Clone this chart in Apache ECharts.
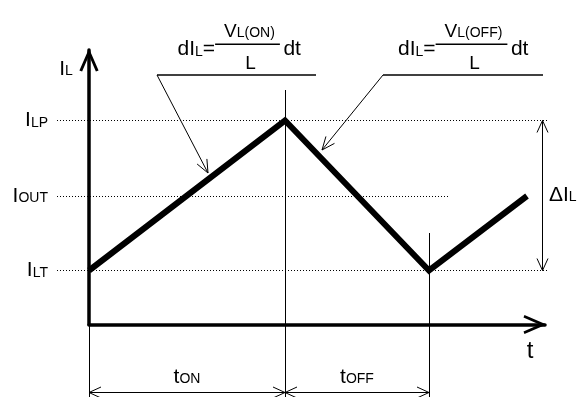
<!DOCTYPE html>
<html>
<head>
<meta charset="utf-8">
<script src="https://cdn.jsdelivr.net/npm/echarts@6/dist/echarts.min.js"></script>
<style>
  html, body { margin: 0; padding: 0; background: #fff; }
  #chart { width: 586px; height: 397px; }
</style>
</head>
<body>
<div id="chart"></div>
<script>
// inductor current waveform (t and I in arbitrary units)
var waveT = [0, 9.8, 17.0, 21.9];
var waveI = [5.4, 20.4, 5.4, 12.85];

// current levels marked on the I axis
var levelLabels = ['I_{LT}', 'I_{OUT}', 'I_{LP}'];
var levelValues = [5.4, 12.85, 20.4];
var levelLineFrom = [-1.6, -1.6, -1.6];
var levelLineTo = [23.0, 18.05, 23.0];

// switching instants (t = 0, end of tON, end of tOFF)
var edgeT = [0, 9.8, 17.0];
var edgeTop = [0, 23.45, 9.15];
var guideBottom = -7.25;
var dimY = -6.75;           // level of the tON / tOFF dimension arrows
var deltaX = 22.65;         // position of the delta IL dimension arrow

// formula call-outs: shelf from..to at shelfY, leader from shelf start to tip
var shelfFrom = [3.4, 14.7];
var shelfTo = [11.35, 22.7];
var shelfY = 24.95;
var tipT = [5.95, 11.65];
var tipI = [15.15, 17.45];
var formulaX = [7.925, 19.125];
var formulaY = 28.03;
var formulaLhs = ['dI_{L}=', 'dI_{L}='];
var formulaNum = ['V_{L(ON)}', 'V_{L(OFF)}'];
var formulaDen = ['L', 'L'];
var formulaRhs = ['dt', 'dt'];

// other labels
var labelTexts = ['I_{L}', 't', 't_{ON}', 't_{OFF}', '\u0394I_{L}'];
var labelX = [-1.15, 22.05, (edgeT[0] + edgeT[1]) / 2, (edgeT[1] + edgeT[2]) / 2, 23.0];
var labelY = [25.55, -2.65, -5.25, -5.25, 12.95];

var FONT = '"Liberation Sans", Arial, Helvetica, sans-serif';
var INK = '#000';
var ARROW = 'path://M0,0 L10,23 L7.2,24 L0,7.4 L-7.2,24 L-10,23 Z';
var LABEL_ALIGN = ['center', 'center', 'center', 'center', 'left'];
var LABEL_SIZE = [21, 24, 21, 21, 21];

function markup(str) {
    var out = '', re = /_\{([^}]*)\}/g, last = 0, mm;
    while ((mm = re.exec(str))) {
        if (mm.index > last) out += '{m|' + str.slice(last, mm.index) + '}';
        out += '{s|' + mm[1] + '}';
        last = re.lastIndex;
    }
    if (last < str.length) out += '{m|' + str.slice(last) + '}';
    return out;
}
function richStyle(mainSize, subSize) {
    return {
        m: { fontFamily: FONT, fontSize: mainSize, fill: INK, color: INK, verticalAlign: 'bottom' },
        s: { fontFamily: FONT, fontSize: subSize, fill: INK, color: INK, verticalAlign: 'bottom', padding: [0, 0, 1, 0] }
    };
}
function textEl(str, x, y, align, mainSize, subSize) {
    return {
        type: 'text', x: x, y: y,
        style: { text: markup(str), rich: richStyle(mainSize, subSize), align: align, verticalAlign: 'middle' }
    };
}
function crisp(v) { return Math.round(v - 0.5) + 0.5; }
function seg(a, b, w) {
    return { type: 'line', shape: { x1: a[0], y1: a[1], x2: b[0], y2: b[1] },
        style: { stroke: INK, lineWidth: w || 1 } };
}
function head(tip, from, len, half) {
    var dx = tip[0] - from[0], dy = tip[1] - from[1];
    var d = Math.sqrt(dx * dx + dy * dy), ux = dx / d, uy = dy / d;
    var bx = tip[0] - ux * len, by = tip[1] - uy * len;
    return { type: 'polyline',
        shape: { points: [[bx - uy * half, by + ux * half], tip, [bx + uy * half, by - ux * half]] },
        style: { stroke: INK, fill: 'none', lineWidth: 1 } };
}
var measureCtx = document.createElement('canvas').getContext('2d');
function widthOf(str, mainSize, subSize) {
    var w = 0, parts = markup(str).match(/\{(m|s)\|[^}]*\}/g) || [];
    parts.forEach(function (p) {
        measureCtx.font = (p.charAt(1) === 'm' ? mainSize : subSize) + 'px ' + FONT;
        w += measureCtx.measureText(p.slice(3, -1)).width;
    });
    return w;
}

var chart = echarts.init(document.getElementById('chart'));

var axisLine = {
    show: true,
    symbol: ['none', ARROW],
    symbolSize: [20, 23],
    symbolOffset: [0, -10],
    lineStyle: { color: INK, width: 3.5 }
};

var option = {
    backgroundColor: '#fff',
    animation: false,
    grid: { left: 89, right: 41, top: 50, bottom: 72.5, containLabel: false },
    xAxis: {
        type: 'value', min: 0, max: 22.8,
        axisLine: axisLine,
        axisTick: { show: false }, axisLabel: { show: false }, splitLine: { show: false }
    },
    yAxis: {
        type: 'value', min: 0, max: 27.45,
        axisLine: axisLine,
        axisTick: { show: false }, splitLine: { show: false },
        axisLabel: {
            customValues: levelValues,
            margin: 41,
            formatter: function (v) {
                var i = levelValues.indexOf(v);
                return i < 0 ? '' : markup(levelLabels[i]);
            },
            rich: richStyle(21, 14)
        }
    },
    series: [{
        name: 'levels', type: 'custom', clip: false, silent: true, z: 1,
        data: levelValues.map(function (v, i) { return [levelLineFrom[i], v, levelLineTo[i]]; }),
        renderItem: function (params, api) {
            var a = api.coord([api.value(0), api.value(1)]);
            var b = api.coord([api.value(2), api.value(1)]);
            var y = crisp(a[1]);
            return { type: 'line', shape: { x1: a[0], y1: y, x2: b[0], y2: y },
                style: { stroke: INK, lineWidth: 1, lineDash: [1, 2] } };
        }
    }, {
        name: 'guides', type: 'custom', clip: false, silent: true, z: 2,
        data: edgeT.map(function (t, i) { return [t, edgeTop[i]]; }),
        renderItem: function (params, api) {
            var a = api.coord([api.value(0), api.value(1)]);
            var b = api.coord([api.value(0), guideBottom]);
            var x = crisp(a[0]);
            return seg([x, a[1]], [x, b[1]], 1);
        }
    }, {
        name: 'dimensions', type: 'custom', clip: false, silent: true, z: 2,
        data: [[edgeT[0], dimY, edgeT[1], dimY], [edgeT[1], dimY, edgeT[2], dimY],
               [deltaX, levelValues[2], deltaX, levelValues[0]]],
        renderItem: function (params, api) {
            var a = api.coord([api.value(0), api.value(1)]);
            var b = api.coord([api.value(2), api.value(3)]);
            if (a[0] === b[0]) { a[0] = b[0] = crisp(a[0]); } else { a[1] = b[1] = crisp(a[1]); }
            return { type: 'group', children: [
                seg(a, b, 1), head(a, b, 12, 5.5), head(b, a, 12, 5.5)
            ] };
        }
    }, {
        name: 'callouts', type: 'custom', clip: false, silent: true, z: 2,
        data: shelfFrom.map(function (s, i) { return [s, shelfY, shelfTo[i], tipT[i], tipI[i]]; }),
        renderItem: function (params, api) {
            var i = params.dataIndex;
            var s0 = api.coord([api.value(0), api.value(1)]);
            var s1 = api.coord([api.value(2), api.value(1)]);
            var tip = api.coord([api.value(3), api.value(4)]);
            var c = api.coord([formulaX[i], formulaY]);
            var numW = widthOf(formulaNum[i], 19, 14);
            var w = numW + 14;
            var barL = c[0] - w / 2, barR = c[0] + w / 2;
            return { type: 'group', children: [
                seg(s0, s1, 1.6),
                seg(s0, tip, 1),
                head(tip, s0, 13, 5.5),
                seg([barL, c[1]], [barR, c[1]], 1.4),
                textEl(formulaLhs[i], barL, c[1] + 5.5, 'right', 21, 14),
                textEl(formulaNum[i], c[0] + 2, c[1] - 12.5, 'center', 19, 14),
                textEl(formulaDen[i], c[0] + 3, c[1] + 19.5, 'center', 19, 14),
                textEl(formulaRhs[i], barR + 3.5, c[1] + 5.5, 'left', 21, 14)
            ] };
        }
    }, {
        name: 'IL', type: 'line', z: 3, silent: true,
        symbol: 'none',
        data: waveT.map(function (t, i) { return [t, waveI[i]]; }),
        lineStyle: { color: INK, width: 6, join: 'miter', cap: 'butt' }
    }, {
        name: 'labels', type: 'custom', clip: false, silent: true, z: 4,
        data: labelX.map(function (x, i) { return [x, labelY[i]]; }),
        renderItem: function (params, api) {
            var i = params.dataIndex;
            var p = api.coord([api.value(0), api.value(1)]);
            return textEl(labelTexts[i], p[0], p[1], LABEL_ALIGN[i], LABEL_SIZE[i], 14);
        }
    }]
};

chart.setOption(option);
</script>
</body>
</html>
